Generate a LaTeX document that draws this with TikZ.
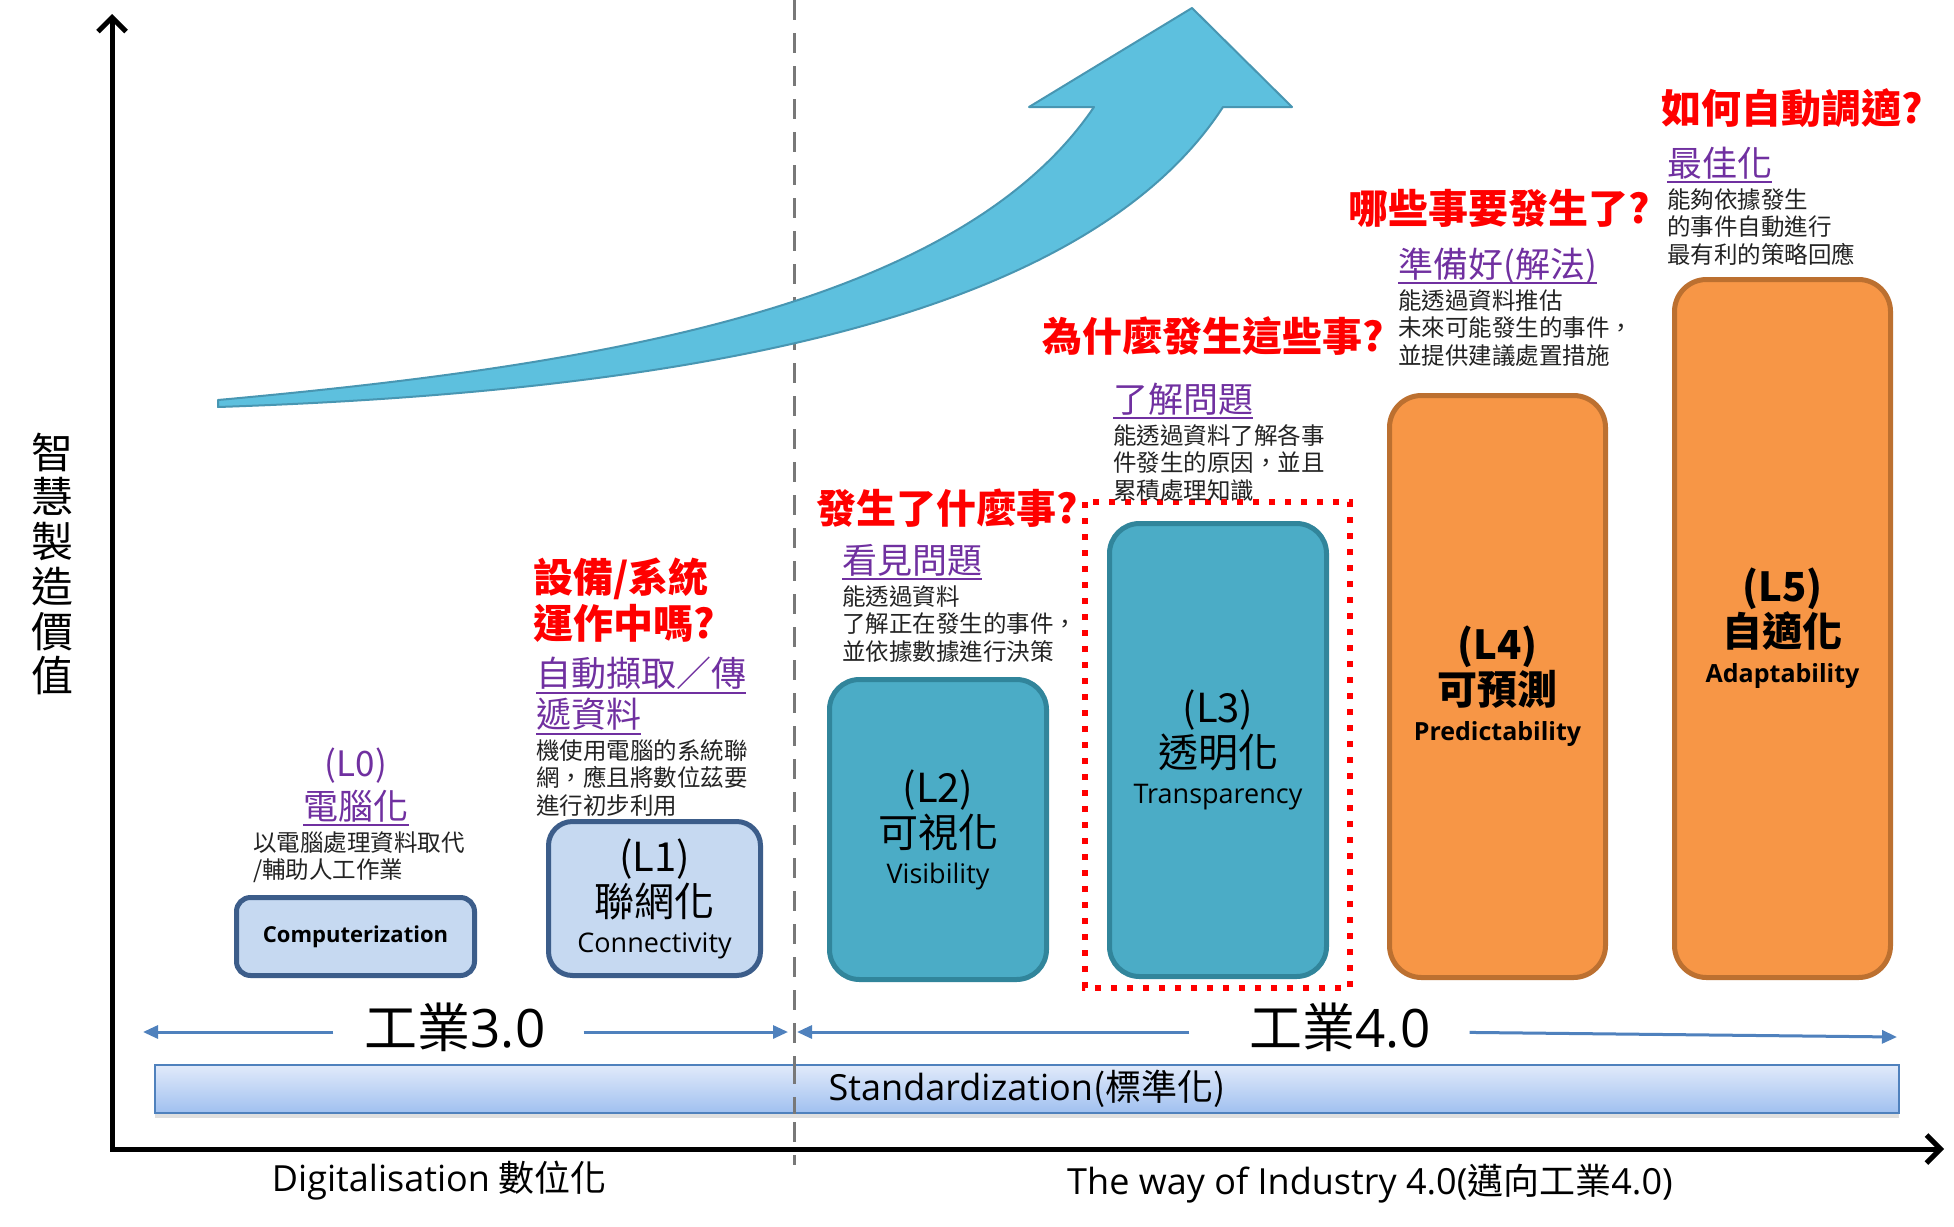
\documentclass[tikz,border=0pt]{standalone}
\usepackage{fontspec}
\setmainfont{Noto Sans CJK TC}
\newfontfamily\lat{Open Sans}
\usetikzlibrary{arrows.meta,shadows}
\newcommand{\fsz}[2]{\fontsize{#1}{#2}\selectfont}
\definecolor{lbfill}{RGB}{198,217,241}
\definecolor{lbdraw}{RGB}{60,93,138}
\definecolor{tealfill}{RGB}{75,172,198}
\definecolor{tealdraw}{RGB}{49,133,155}
\definecolor{orfill}{RGB}{247,150,70}
\definecolor{ordraw}{RGB}{188,112,48}
\definecolor{qred}{RGB}{255,0,0}
\definecolor{ttlpurple}{RGB}{112,48,160}
\definecolor{linkblue}{RGB}{79,129,189}
\definecolor{arrfill}{RGB}{93,192,222}
\definecolor{arrdraw}{RGB}{72,150,178}
\definecolor{descgray}{RGB}{35,35,35}
\definecolor{dashgray}{RGB}{120,120,120}
\definecolor{bartop}{RGB}{225,234,250}
\definecolor{barbot}{RGB}{160,192,240}
\tikzset{
  question/.style={text=qred, font=\bfseries\fsz{40}{46}, inner sep=0pt, align=left, anchor=base west},
  ttl/.style={text=ttlpurple, font=\fsz{35}{41}, inner sep=0pt, anchor=base west},
  desc/.style={text=descgray, font=\fsz{23.5}{27.5}, inner sep=0pt, align=left, anchor=base west},
  uline/.style={draw=ttlpurple, line width=2pt},
  lvbox/.style={line width=5pt, align=center, inner sep=0pt, font=\fsz{40}{45}},
  bluebox/.style={lvbox, fill=lbfill, draw=lbdraw},
  tealbox/.style={lvbox, fill=tealfill, draw=tealdraw, rounded corners=30pt},
  orbox/.style={lvbox, fill=orfill, draw=ordraw, rounded corners=32pt, font=\bfseries\fsz{40}{45}},
  barrow/.style={draw=linkblue, line width=3pt, -{Triangle[length=15pt,width=13pt]}},
  axisline/.style={line width=5pt, {Straight Barb[length=14pt,width=28pt]}-{Straight Barb[length=14pt,width=28pt]}},
  divider/.style={draw=dashgray, line width=3pt, dash pattern=on 20pt off 13pt},
  bigarrow/.style={fill=arrfill, draw=arrdraw, line width=2pt, line join=round},
  reddots/.style={draw=qred, line width=6pt, dash pattern=on 6pt off 10pt},
  stdbar/.style={draw=linkblue, line width=2.5pt, top color=bartop, bottom color=barbot, inner sep=0pt, font=\fsz{36}{40}, drop shadow={shadow xshift=0pt, shadow yshift=-5pt, opacity=0.25}},
  bigtxt/.style={font=\fsz{53}{60}, inner sep=0pt, anchor=base},
  axlbl/.style={font=\fsz{36}{40}, inner sep=0pt, anchor=base},
}
\begin{document}
\begin{tikzpicture}[x=1pt,y=-1pt]
\useasboundingbox[fill=white] (0,0) rectangle (1954,1226);
% divider
\coordinate (dtop) at (794,0);
\coordinate (dbot) at (794,1165);
\draw[divider] (dtop) -- (dbot);
% axes
\coordinate (O) at (112,1149);
\coordinate (ytop) at (112,14);
\coordinate (xend) at (1944,1149);
\draw[axisline] (ytop) -- (O) -- (xend);
\node[font=\fsz{42}{44.7}, align=center, inner sep=0pt] (ylab) at (52,564) {智\\慧\\製\\造\\價\\值};
% big arrow
\path[bigarrow] (218,400) .. controls (568,368) and (954,314) .. (1094,107) -- (1029,107) -- (1192,8) -- (1292,107) -- (1223,107) .. controls (1081,325) and (668,392) .. (218,407) -- cycle;
% standardization bar
\node[stdbar, minimum width=1744pt, minimum height=48pt] (std) at (1027,1089) {{\lat Standardization}(標準化)};
\draw[divider] (std.north -| dtop) -- (std.south -| dtop);
% industry labels and arrows
\node[bigtxt] (t30) at (455,1047) {工業{\lat 3.0}};
\node[bigtxt] (t40) at (1340,1047) {工業{\lat 4.0}};
\coordinate (a30l) at (143,1032);
\coordinate (a30r) at (788,1032);
\coordinate (a40l) at (797,1032);
\coordinate (a40r) at (1897,1037);
\draw[barrow, shorten <=31pt] (t30.west |- a30l) -- (a30l);
\draw[barrow, shorten <=38pt] (t30.east |- a30r) -- (a30r);
\draw[barrow, shorten <=60pt] (t40.west |- a40l) -- (a40l);
\draw[barrow, shorten <=39pt] (t40.east |- a30l) -- (a40r);
\node[axlbl] (xl1) at (439,1191) {{\lat Digitalisation} 數位化};
\node[axlbl] (xl2) at (1370,1194) {{\lat The way of Industry 4.0(}邁向工業{\lat 4.0)}};
% level boxes
\node[bluebox, minimum width=238pt, minimum height=78pt, rounded corners=14pt, font=\lat\bfseries\fsz{22}{26}] (L0) at (355.5,936.5) {Computerization};
\node[bluebox, minimum width=212pt, minimum height=154pt, rounded corners=24pt] (L1) at (654.5,898.5) {(L1)\\聯網化\\[-9pt]{\lat\fsz{27}{30}Connectivity}};
\node[tealbox, minimum width=217pt, minimum height=300pt] (L2) at (938,829.5) {(L2)\\可視化\\[-9pt]{\lat\fsz{27}{30}Visibility}};
\node[tealbox, minimum width=217pt, minimum height=453pt] (L3) at (1218,750) {(L3)\\透明化\\[-9pt]{\lat\fsz{27}{30}Transparency}};
\node[orbox, minimum width=216pt, minimum height=582pt] (L4) at (1497.5,686.5) {(L4)\\可預測\\[-9pt]{\lat\bfseries\fsz{25}{30}Predictability}};
\node[orbox, minimum width=216pt, minimum height=698pt] (L5) at (1782.5,628.5) {(L5)\\自適化\\[-9pt]{\lat\bfseries\fsz{25}{30}Adaptability}};
\draw[reddots] (1085,502) rectangle (1350,988);
% questions (base anchor = last line)
\node[question] (q1) at (533,638) {設備/系統\\運作中嗎?};
\node[question] (q2) at (816,523) {發生了什麼事?};
\node[question] (q3) at (1042,351) {為什麼發生這些事?};
\node[question] (q4) at (1348,223) {哪些事要發生了?};
\node[question] (q5) at (1661,123) {如何自動調適?};
% titles
\node[ttl, anchor=base] (p0a) at (356,776) {(L0)};
\node[ttl, anchor=base] (p0b) at (356,819) {電腦化};
\draw[uline] ([yshift=-6pt]p0b.base west) -- ([yshift=-6pt]p0b.base east);
\node[ttl] (p1a) at (536,686) {自動擷取／傳};
\draw[uline] ([yshift=-7pt]p1a.base west) -- ([yshift=-7pt]p1a.base east);
\node[ttl] (p1b) at (536,727) {遞資料};
\draw[uline] ([yshift=-7pt]p1b.base west) -- ([yshift=-7pt]p1b.base east);
\node[ttl] (p2) at (842,573) {看見問題};
\draw[uline] ([yshift=-6pt]p2.base west) -- ([yshift=-6pt]p2.base east);
\node[ttl] (p3) at (1113,412) {了解問題};
\draw[uline] ([yshift=-6pt]p3.base west) -- ([yshift=-6pt]p3.base east);
\node[ttl] (p4) at (1398,277) {準備好(解法)};
\draw[uline] ([yshift=-6pt]p4.base west) -- ([yshift=-6pt]p4.base east);
\node[ttl] (p5) at (1667,176) {最佳化};
\draw[uline] ([yshift=-6pt]p5.base west) -- ([yshift=-6pt]p5.base east);
% descriptions (base anchor = last line)
\node[desc] (d0) at (253,878.5) {以電腦處理資料取代\\/輔助人工作業};
\node[desc] (d1) at (536,814) {機使用電腦的系統聯\\網，應且將數位茲要\\進行初步利用};
\node[desc] (d2) at (842,660) {能透過資料\\了解正在發生的事件，\\並依據數據進行決策};
\node[desc] (d3) at (1113,499) {能透過資料了解各事\\件發生的原因，並且\\累積處理知識};
\node[desc] (d4) at (1398,364) {能透過資料推估\\未來可能發生的事件，\\並提供建議處置措施};
\node[desc] (d5) at (1667,263) {能夠依據發生\\的事件自動進行\\最有利的策略回應};
\end{tikzpicture}
\end{document}
